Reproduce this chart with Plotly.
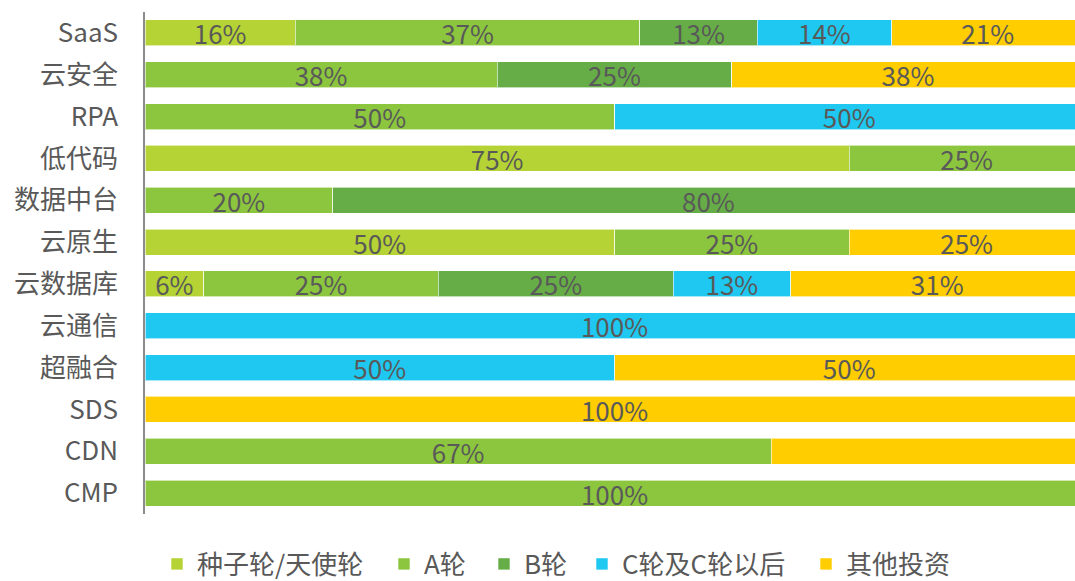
import plotly.graph_objects as go

categories = ["SaaS", "云安全", "RPA", "低代码", "数据中台", "云原生", "云数据库", "云通信", "超融合", "SDS", "CDN", "CMP"]
series_names = ["种子轮/天使轮", "A轮", "B轮", "C轮及C轮以后", "其他投资"]
colors = ["#b5d334", "#8cc63f", "#66ad47", "#1ec8f0", "#ffcd00"]

seed = [16.0, 0, 0, 75, 0, 50, 6.25, 0, 0, 0, 0, 0]
round_a = [36.7, 37.5, 50, 25, 20, 25, 25, 0, 0, 0, 66.7, 100]
round_b = [12.5, 25, 0, 0, 80, 0, 25, 0, 0, 0, 0, 0]
round_c = [14.3, 0, 50, 0, 0, 0, 12.5, 100, 50, 0, 0, 0]
other = [20.5, 37.5, 0, 0, 0, 25, 31.25, 0, 50, 100, 33.3, 0]

seed_labels = ["16%", "", "", "75%", "", "50%", "6%", "", "", "", "", ""]
a_labels = ["37%", "38%", "50%", "25%", "20%", "25%", "25%", "", "", "", "67%", "100%"]
b_labels = ["13%", "25%", "", "", "80%", "", "25%", "", "", "", "", ""]
c_labels = ["14%", "", "50%", "", "", "", "13%", "100%", "50%", "", "", ""]
other_labels = ["21%", "38%", "", "", "", "25%", "31%", "", "50%", "100%", "", ""]

series = [seed, round_a, round_b, round_c, other]
labels = [seed_labels, a_labels, b_labels, c_labels, other_labels]

# legend square centres (px) in the reference
legend_square_x = [178, 405, 505, 603, 827]

FONT = "Noto Sans CJK SC, sans-serif"
TXT = "#595959"
W, H = 1075, 581
# the reference's plot area runs past the right edge of the image (clipped)
X_VISIBLE_MAX = 100 * 930 / 939

fig = go.Figure()
legend_layouts = {}
for i, (name, vals, txt, col) in enumerate(zip(series_names, series, labels, colors)):
    lg = "legend" if i == 0 else f"legend{i + 1}"
    fig.add_trace(go.Bar(
        y=categories, x=vals, name=name, orientation="h",
        marker=dict(color=col, line=dict(color="rgba(255,255,255,0.6)", width=1)),
        text=txt, textposition="inside", insidetextanchor="middle", textangle=0,
        constraintext="none",
        textfont=dict(family=FONT, size=26, color=TXT),
        hoverinfo="x+y",
        legend=lg,
    ))
    legend_layouts[lg] = dict(
        orientation="h", xref="container", yref="container",
        x=(legend_square_x[i] - 21) / W, xanchor="left",
        y=1 - 564 / H, yanchor="middle",
        font=dict(family=FONT, size=26, color=TXT),
        itemwidth=30, bgcolor="rgba(0,0,0,0)",
    )

fig.update_layout(
    barmode="stack",
    bargap=0.38,
    width=W, height=H,
    margin=dict(l=145, r=0, t=12, b=67, autoexpand=False),
    plot_bgcolor="white", paper_bgcolor="white",
    font=dict(family=FONT, size=26, color=TXT),
    xaxis=dict(range=[0, X_VISIBLE_MAX], visible=False, fixedrange=True),
    yaxis=dict(autorange="reversed", showline=True, linecolor="#8c8c8c", linewidth=1.5,
               ticks="", ticklabelstandoff=20, showgrid=False, automargin=False,
               tickfont=dict(family=FONT, size=26, color=TXT)),
    showlegend=True,
    **legend_layouts,
)

fig.write_html("out.html", config={"displayModeBar": False},
               post_script="document.body.style.margin='0';document.body.style.overflow='hidden';")
